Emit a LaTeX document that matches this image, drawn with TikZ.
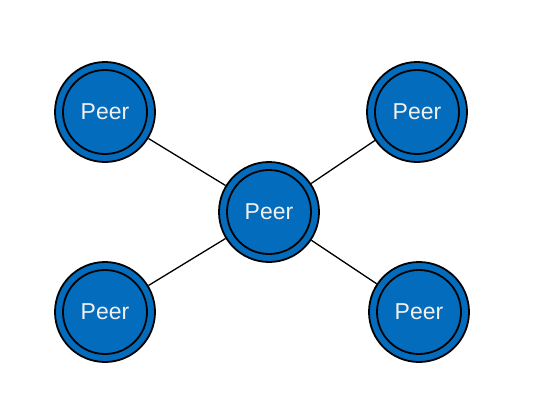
\documentclass[tikz,border=0pt]{standalone}
\usepackage{fontspec}
\setmainfont{Liberation Sans}
\definecolor{peerblue}{RGB}{4,108,189}
\definecolor{peertext}{RGB}{240,240,240}
\begin{document}
\begin{tikzpicture}[x=1pt,y=-1pt,
  peer/.style={circle,draw=black,line width=1.8pt,fill=peerblue,minimum size=100pt,inner sep=0pt,
    text=peertext,font=\fontsize{23}{26}\selectfont},
  innerring/.style={draw=black,line width=1.8pt},
  link/.style={draw=black,line width=1.3pt}]
\useasboundingbox (0,0) rectangle (538,410);
\node[peer] (c) at (269,212) {};
\node[peer] (tl) at (105,112) {};
\node[peer] (tr) at (417,112) {};
\node[peer] (bl) at (105,312) {};
\node[peer] (br) at (419,312) {};
\draw[link] (tl) -- (c);
\draw[link] (tr) -- (c);
\draw[link] (bl) -- (c);
\draw[link] (br) -- (c);
\foreach \n in {c,tl,tr,bl,br}{
  \draw[innerring] (\n.center) circle[radius=42pt];
  \node[text=peertext,font=\fontsize{23}{26}\selectfont] (\n-label) at (\n.center) {Peer};
}
\end{tikzpicture}
\end{document}
